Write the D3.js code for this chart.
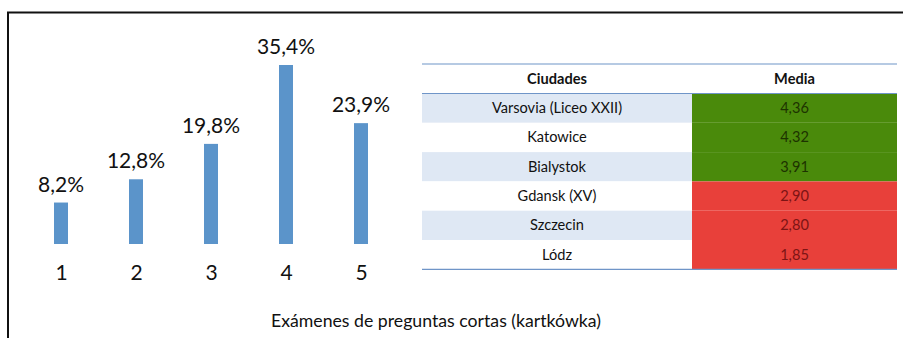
<!DOCTYPE html>
<html>
<head>
<meta charset="utf-8">
<script src="https://cdn.jsdelivr.net/npm/d3@7"></script>
<style>
  html, body { margin: 0; padding: 0; background: #fff; }
  svg { display: block; font-family: Lato, "Open Sans", sans-serif; }
</style>
</head>
<body>
<svg id="chart" width="903" height="338"></svg>
<script>
// Bar chart: share of grades 1–5
const grades = ["1", "2", "3", "4", "5"];
const shares = [8.2, 12.8, 19.8, 35.4, 23.9];

// Table: mean grade by city
const cities = ["Varsovia (Liceo XXII)", "Katowice", "Bialystok", "Gdansk (XV)", "Szczecin", "Lódz"];
const means = [4.36, 4.32, 3.91, 2.90, 2.80, 1.85];
const tableHeaders = ["Ciudades", "Media"];

const title = "Exámenes de preguntas cortas (kartkówka)";

const fmt = v => d3.format(".1f")(v).replace(".", ",");
const fmt2 = v => d3.format(".2f")(v).replace(".", ",");

const svg = d3.select("#chart");

// Frame (left and top edges)
svg.append("path")
  .attr("d", "M8,338 L8,12.5 L903,12.5")
  .attr("fill", "none").attr("stroke", "#111").attr("stroke-width", 2);

// ---- Bars ----
const x = d3.scalePoint().domain(grades).range([61, 361]);
const y = d3.scaleLinear().domain([0, 35.4]).range([244, 65]);
const barW = 14;

svg.append("g").selectAll("rect").data(grades).join("rect")
  .attr("x", d => x(d) - barW / 2)
  .attr("y", (d, i) => y(shares[i]))
  .attr("width", barW)
  .attr("height", (d, i) => y(0) - y(shares[i]))
  .attr("fill", "#5b94ca");

svg.append("g").selectAll("text").data(grades).join("text")
  .attr("x", d => x(d))
  .attr("y", (d, i) => y(shares[i]) - 11)
  .attr("text-anchor", "middle")
  .attr("font-size", 21)
  .attr("fill", "#111")
  .text((d, i) => fmt(shares[i]) + "%");

const xAxis = svg.append("g").attr("transform", "translate(0,244)")
  .call(d3.axisBottom(x).tickSize(0).tickPadding(21));
xAxis.select(".domain").remove();
xAxis.selectAll("text").attr("font-size", 21).attr("fill", "#111")
  .attr("font-family", "Lato, 'Open Sans', sans-serif");

// ---- Table ----
const tLeft = 422, tSplit = 692, tRight = 897;
const headTop = 64, headBottom = 93.5, rowH = 29.3;
const rowY = d3.scaleBand().domain(cities).range([headBottom, headBottom + rowH * cities.length]);
const colour = v => v >= 3.5 ? "#4a8a0b" : "#e8403a";
const txtColour = v => v >= 3.5 ? "#1d3300" : "#7d1414";

const tbl = svg.append("g");
tbl.selectAll("rect.name").data(cities).join("rect")
  .attr("class", "name")
  .attr("x", tLeft).attr("y", d => rowY(d))
  .attr("width", tSplit - tLeft).attr("height", rowY.bandwidth())
  .attr("fill", (d, i) => i % 2 === 0 ? "#dfe8f4" : "#ffffff");
tbl.selectAll("rect.val").data(cities).join("rect")
  .attr("class", "val")
  .attr("x", tSplit).attr("y", d => rowY(d))
  .attr("width", tRight - tSplit).attr("height", rowY.bandwidth())
  .attr("fill", (d, i) => colour(means[i]));

tbl.selectAll("text.name").data(cities).join("text")
  .attr("class", "name")
  .attr("x", (tLeft + tSplit) / 2).attr("y", d => rowY(d) + rowY.bandwidth() / 2 + 5)
  .attr("text-anchor", "middle").attr("font-size", 14.6).attr("fill", "#111")
  .text(d => d);
tbl.selectAll("text.val").data(cities).join("text")
  .attr("class", "val")
  .attr("x", (tSplit + tRight) / 2).attr("y", d => rowY(d) + rowY.bandwidth() / 2 + 5)
  .attr("text-anchor", "middle").attr("font-size", 14.6)
  .attr("fill", (d, i) => txtColour(means[i]))
  .text((d, i) => fmt2(means[i]));

tbl.selectAll("text.head").data(tableHeaders).join("text")
  .attr("class", "head")
  .attr("x", (d, i) => i === 0 ? (tLeft + tSplit) / 2 : (tSplit + tRight) / 2)
  .attr("y", 84).attr("text-anchor", "middle")
  .attr("font-size", 14.6).attr("font-weight", "bold").attr("fill", "#111")
  .text(d => d);

[headTop, headBottom, headBottom + rowH * cities.length].forEach(ly => {
  tbl.append("line").attr("x1", tLeft).attr("x2", tRight)
    .attr("y1", ly).attr("y2", ly)
    .attr("stroke", "#6f95c8").attr("stroke-width", 1.2);
});

// ---- Title ----
svg.append("text")
  .attr("x", 436).attr("y", 327).attr("text-anchor", "middle")
  .attr("font-size", 17.7).attr("fill", "#111")
  .text(title);
</script>
</body>
</html>
